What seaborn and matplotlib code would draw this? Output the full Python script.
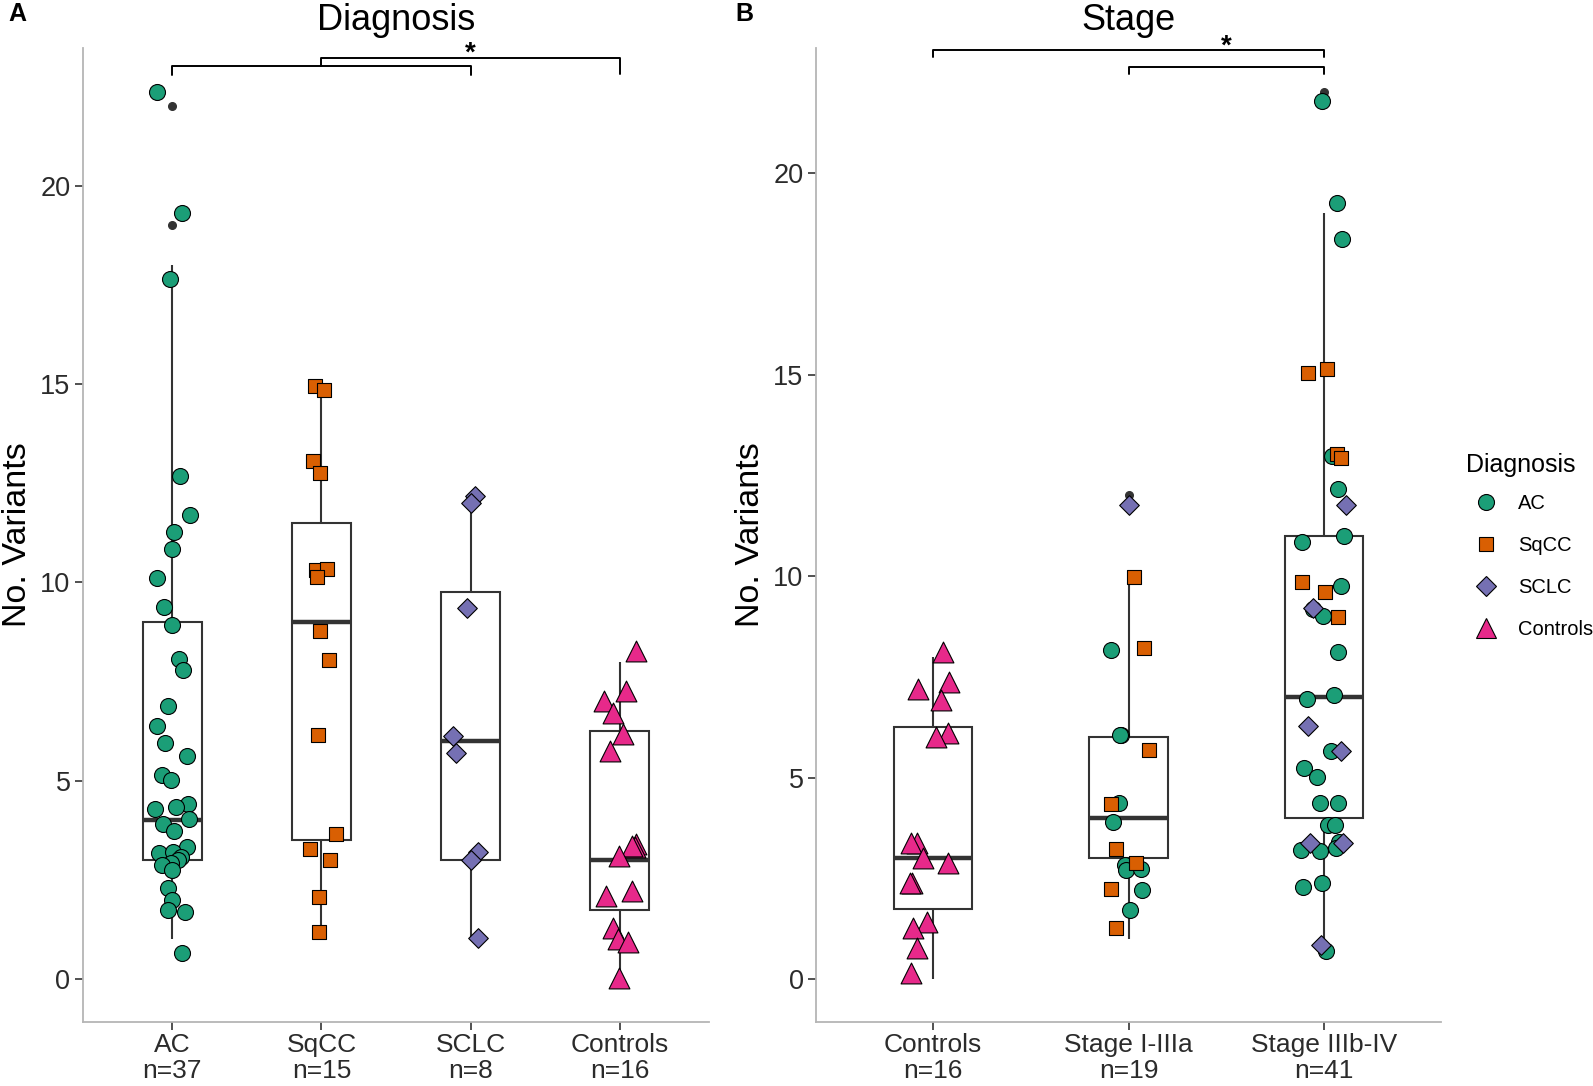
import numpy as np
import pandas as pd
import matplotlib
matplotlib.use("Agg")
import matplotlib.pyplot as plt
from matplotlib.lines import Line2D
import seaborn as sns

# Panel A: No. variants per diagnosis (points as they sit in the picture, jittered)
ac_vals = [22.35, 19.31, 17.65, 12.67, 11.70, 11.26, 10.84, 10.11, 9.37, 8.93,
           8.07, 7.79, 6.89, 6.37, 5.95, 5.63, 5.15, 5.03, 4.41, 4.29, 4.35,
           4.04, 3.92, 3.74, 3.32, 3.19, 3.20, 3.09, 3.00, 2.94, 2.88, 2.75,
           2.30, 2.00, 1.74, 1.68, 0.65]
sqcc_vals = [14.96, 14.85, 13.07, 12.77, 10.31, 10.35, 10.14, 8.78, 8.04, 6.16,
             3.66, 3.28, 3.00, 2.08, 1.19]
sclc_vals = [12.19, 11.99, 9.35, 6.14, 5.70, 3.21, 3.01, 1.04]
ctrl_vals = [8.28, 7.27, 7.02, 6.72, 6.18, 5.76, 3.41, 3.32, 3.36, 3.11, 2.23,
             2.10, 1.30, 1.01, 0.93, 0.04]

# Panel B: No. variants per stage, split by diagnosis
ctrl_stage_vals = [8.13, 7.38, 7.19, 6.93, 6.10, 6.02, 3.39, 3.37, 3.00, 2.88,
                   2.40, 2.38, 1.43, 1.27, 0.77, 0.15]
early_ac = [8.17, 6.07, 6.06, 4.38, 3.91, 2.84, 2.71, 2.73, 2.22, 1.72]
early_sqcc = [9.99, 8.21, 5.69, 4.35, 3.23, 2.89, 2.23, 1.28]
early_sclc = [11.76]
late_ac = [21.78, 19.26, 18.35, 12.98, 12.16, 10.99, 10.85, 9.75, 9.18, 9.01,
           8.13, 7.05, 6.95, 5.66, 5.23, 5.01, 4.37, 4.36, 3.83, 3.82, 3.41,
           3.25, 3.21, 3.18, 2.38, 2.30, 0.69]
late_sqcc = [15.15, 15.03, 13.03, 12.92, 9.86, 9.61, 8.98]
late_sclc = [11.76, 9.20, 6.29, 5.65, 3.37, 3.37, 0.85]

diagnoses = ["AC", "SqCC", "SCLC", "Controls"]
stages = ["Controls", "Stage I-IIIa", "Stage IIIb-IV"]
diag_labels = ["AC\nn=37", "SqCC\nn=15", "SCLC\nn=8", "Controls\nn=16"]
stage_labels = ["Controls\nn=16", "Stage I-IIIa\nn=19", "Stage IIIb-IV\nn=41"]

colors = {"AC": "#1B9E77", "SqCC": "#D95F02", "SCLC": "#7570B3", "Controls": "#E7298A"}
markers = {"AC": "o", "SqCC": "s", "SCLC": "D", "Controls": "^"}
msizes = {"AC": 11.5, "SqCC": 10.3, "SCLC": 10.0, "Controls": 15}


def long_frame(groups, group_col):
    rows = []
    for grp, diag, vals in groups:
        for v in vals:
            rows.append({group_col: grp, "Diagnosis": diag, "variants": v})
    df = pd.DataFrame(rows)
    # the box summarises the whole counts, the points carry the vertical jitter
    df["count"] = df["variants"].round()
    return df


dfA = long_frame([("AC", "AC", ac_vals), ("SqCC", "SqCC", sqcc_vals),
                  ("SCLC", "SCLC", sclc_vals), ("Controls", "Controls", ctrl_vals)],
                 "group")
dfB = long_frame([("Controls", "Controls", ctrl_stage_vals),
                  ("Stage I-IIIa", "AC", early_ac), ("Stage I-IIIa", "SqCC", early_sqcc),
                  ("Stage I-IIIa", "SCLC", early_sclc),
                  ("Stage IIIb-IV", "AC", late_ac), ("Stage IIIb-IV", "SqCC", late_sqcc),
                  ("Stage IIIb-IV", "SCLC", late_sclc)],
                 "group")

sns.set_theme(style="white")
plt.rcParams["font.family"] = ["Liberation Sans", "DejaVu Sans"]
plt.rcParams["text.color"] = "black"
plt.rcParams["axes.labelcolor"] = "black"
np.random.seed(7)

W, H = 1593, 1086
fig = plt.figure(figsize=(W / 100, H / 100), dpi=100)
axA = fig.add_axes([83 / W, 1 - 1022 / H, (709 - 83) / W, (1022 - 48) / H])
axB = fig.add_axes([816 / W, 1 - 1022 / H, (1441 - 816) / W, (1022 - 48) / H])


def draw_panel(ax, df, order, labels, title, ylim):
    sns.boxplot(data=df, x="group", y="count", order=order, ax=ax, width=0.4,
                color="white", linecolor="#333333", linewidth=1.5, showcaps=False,
                medianprops=dict(linewidth=3.2, color="#333333"),
                flierprops=dict(marker="o", markersize=5.5, markerfacecolor="#333333",
                                markeredgecolor="#333333"))
    for diag in diagnoses:
        sub = df[df["Diagnosis"] == diag]
        if sub.empty:
            continue
        sns.stripplot(data=sub, x="group", y="variants", order=order, ax=ax,
                      jitter=0.12, color=colors[diag], marker=markers[diag],
                      size=msizes[diag], edgecolor="black", linewidth=0.8, zorder=3)
    ax.set_xlim(-0.6, len(order) - 0.4)
    ax.set_ylim(*ylim)
    ax.set_yticks([0, 5, 10, 15, 20])
    ax.set_xticks(range(len(order)))
    ax.set_xticklabels(labels, fontsize=19, color="#2b2b2b", linespacing=1.12)
    ax.tick_params(axis="y", labelsize=19.5, labelcolor="#2b2b2b")
    ax.tick_params(axis="both", length=6, width=1.2, color="#333333", pad=3,
                   bottom=True, left=True)
    ax.tick_params(axis="x", pad=2)
    ax.set_xlabel("")
    ax.set_ylabel("No. Variants", fontsize=24.5, labelpad=5)
    ax.set_title(title, fontsize=26, pad=13)
    for side in ["top", "right"]:
        ax.spines[side].set_visible(False)
    for side in ["left", "bottom"]:
        ax.spines[side].set_color("#B5B5B5")
        ax.spines[side].set_linewidth(1.3)


def bracket(ax, x1, x2, y, drop1, drop2):
    ax.plot([x1, x1, x2, x2], [y - drop1, y, y, y - drop2], color="black",
            linewidth=1.4, clip_on=False, zorder=4)


draw_panel(axA, dfA, diagnoses, diag_labels, "Diagnosis", (-1.08, 23.47))
draw_panel(axB, dfB, stages, stage_labels, "Stage", (-1.06, 23.1))

# significance brackets
bracket(axA, 0, 2, 23.01, 0.21, 0.21)
bracket(axA, 1, 3, 23.23, 0.22, 0.41)
axA.text(2, 23.0, "*", ha="center", va="bottom", fontsize=20, fontweight="bold",
         clip_on=False)
bracket(axB, 0, 2, 23.06, 0.19, 0.19)
bracket(axB, 1, 2, 22.63, 0.17, 0.17)
axB.text(1.5, 22.81, "*", ha="center", va="bottom", fontsize=20, fontweight="bold",
         clip_on=False)

fig.text(8 / W, 1 - 14 / H, "A", fontsize=18, fontweight="bold", va="center", ha="left")
fig.text(735 / W, 1 - 14 / H, "B", fontsize=18, fontweight="bold", va="center", ha="left")

handles = [Line2D([0], [0], linestyle="none", marker=markers[d], markersize=msizes[d],
                  markerfacecolor=colors[d], markeredgecolor="black", markeredgewidth=0.8)
           for d in diagnoses]
leg = fig.legend(handles, diagnoses, title="Diagnosis", loc="upper left",
                 bbox_to_anchor=(1458 / W, 1 - 445 / H), frameon=False, fontsize=14.5,
                 title_fontsize=18, handletextpad=0.6, labelspacing=1.15,
                 borderaxespad=0)
leg._legend_box.align = "left"
leg._legend_box.sep = 12

fig.savefig("out.png", dpi=100)
